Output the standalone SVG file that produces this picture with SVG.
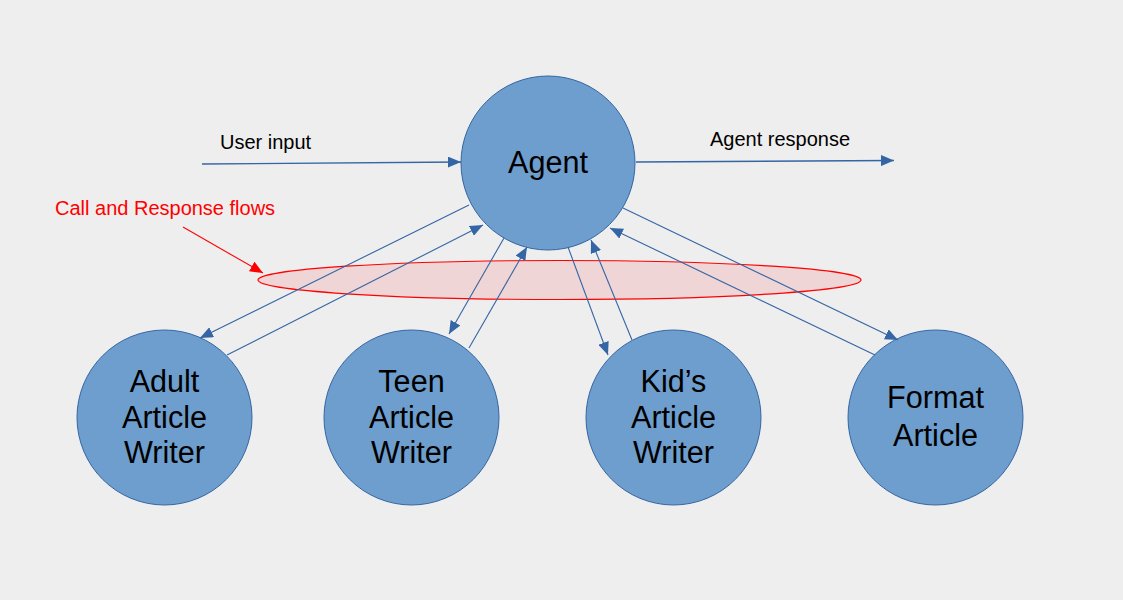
<svg xmlns="http://www.w3.org/2000/svg" width="1123" height="600" viewBox="0 0 1123 600">
<style>
.node circle{fill:#6d9ecd;stroke:#3465a4;stroke-width:1}
.node text{font-family:"Liberation Sans",Arial,sans-serif;font-size:30.6px;fill:#000;text-anchor:middle}
.lbl{font-family:"Liberation Sans",Arial,sans-serif;font-size:20px;fill:#000}
.red{fill:#ff0000}
.conn line{stroke:#3465a4;stroke-width:1.1;fill:none;marker-end:url(#ah)}
</style>
<defs>
<marker id="ah" markerUnits="userSpaceOnUse" markerWidth="13" markerHeight="11" refX="13" refY="5.5" orient="auto">
<path d="M0,0 L13,5.5 L0,11 Z" fill="#3465a4"/>
</marker>
<marker id="ahr" markerUnits="userSpaceOnUse" markerWidth="13" markerHeight="11" refX="13" refY="5.5" orient="auto">
<path d="M0,0 L13,5.5 L0,11 Z" fill="#ff0000"/>
</marker>
</defs>
<rect x="0" y="0" width="1123" height="600" fill="#eeeeee"/>
<g id="flows-annotation">
<ellipse cx="559.5" cy="280" rx="301.5" ry="19.5" fill="#ff0000" fill-opacity="0.1" stroke="#ff0000" stroke-width="1.2"/>
<text class="lbl red" x="55" y="215">Call and Response flows</text>
<line x1="183" y1="227" x2="263" y2="273" stroke="#ff0000" stroke-width="1.1" marker-end="url(#ahr)"/>
</g>
<g id="agent" class="node">
<circle cx="548" cy="163" r="87"/>
<text x="548" y="173">Agent</text>
</g>
<g id="adult" class="node">
<circle cx="164.5" cy="417.5" r="87.5"/>
<text x="164.5" y="392">Adult</text>
<text x="164.5" y="427.5">Article</text>
<text x="164.5" y="463">Writer</text>
</g>
<g id="teen" class="node">
<circle cx="411.5" cy="417.5" r="87.5"/>
<text x="411.5" y="392">Teen</text>
<text x="411.5" y="427.5">Article</text>
<text x="411.5" y="463">Writer</text>
</g>
<g id="kids" class="node">
<circle cx="673.5" cy="417.5" r="87.5"/>
<text x="673.5" y="392">Kid’s</text>
<text x="673.5" y="427.5">Article</text>
<text x="673.5" y="463">Writer</text>
</g>
<g id="format" class="node">
<circle cx="935.5" cy="417.5" r="87.5"/>
<text x="935.5" y="408">Format</text>
<text x="935.5" y="446">Article</text>
</g>
<text class="lbl" x="220" y="149">User input</text>
<text class="lbl" x="710" y="146">Agent response</text>
<g id="connectors" class="conn">
<line x1="202" y1="164" x2="461" y2="162" style="stroke-width:1.4"/>
<line x1="636" y1="162" x2="894" y2="160.5" style="stroke-width:1.4"/>
<line x1="469" y1="205" x2="200" y2="338"/>
<line x1="227" y1="355" x2="483" y2="225"/>
<line x1="504" y1="238" x2="449" y2="334"/>
<line x1="469" y1="348" x2="527" y2="247"/>
<line x1="568" y1="247" x2="608" y2="355"/>
<line x1="632" y1="340" x2="591" y2="240"/>
<line x1="623" y1="208" x2="898" y2="340"/>
<line x1="875" y1="355" x2="610" y2="228"/>
</g>
</svg>
